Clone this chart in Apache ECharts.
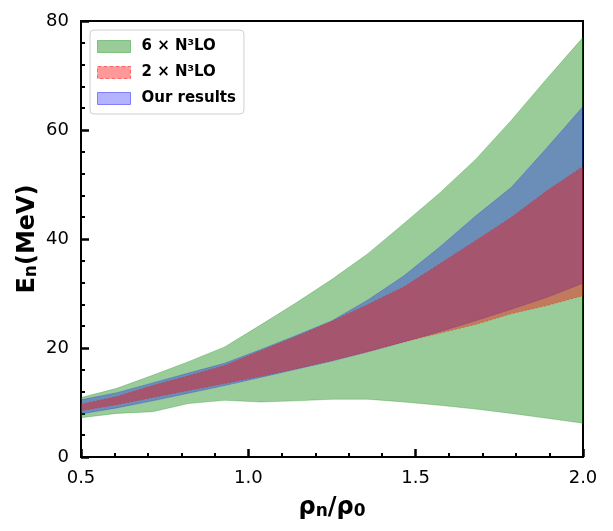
<!DOCTYPE html>
<html>
<head>
<meta charset="utf-8">
<script src="https://cdn.jsdelivr.net/npm/echarts@6/dist/echarts.min.js"></script>
<style>
  html, body { margin: 0; padding: 0; background: #fff; }
  #chart { width: 613px; height: 531px; }
</style>
</head>
<body>
<div id="chart"></div>
<script>
// Density grid rho_n / rho_0
const density = [0.5, 0.607, 0.714, 0.821, 0.929, 1.036, 1.143, 1.25, 1.357, 1.464, 1.571, 1.679, 1.786, 1.893, 2.0];

// 6 x N3LO band (MeV)
const n3lo6Lower = [7.2, 8.0, 8.3, 9.8, 10.4, 10.1, 10.3, 10.6, 10.6, 10.1, 9.5, 8.8, 8.0, 7.1, 6.2];
const n3lo6Upper = [10.9, 12.6, 15.0, 17.5, 20.2, 24.2, 28.3, 32.6, 37.3, 42.8, 48.4, 54.6, 61.8, 69.5, 77.0];

// 2 x N3LO band (MeV)
const n3lo2Lower = [8.5, 9.6, 10.9, 12.2, 13.5, 14.8, 16.2, 17.7, 19.3, 21.1, 22.7, 24.3, 26.3, 27.8, 29.6];
const n3lo2Upper = [9.7, 11.1, 13.1, 14.9, 16.8, 19.5, 22.1, 24.9, 28.0, 31.2, 35.4, 39.7, 44.0, 48.9, 53.3];

// Our results band (MeV)
const oursLower = [7.9, 9.0, 10.3, 11.7, 13.1, 14.6, 16.1, 17.6, 19.3, 21.1, 23.0, 25.0, 27.1, 29.3, 31.9];
const oursUpper = [10.5, 11.8, 13.6, 15.4, 17.2, 19.7, 22.3, 25.0, 28.8, 33.2, 38.5, 44.2, 49.5, 56.8, 64.3];

const xTicks = [0.5, 1.0, 1.5, 2.0];
const yTicks = [0, 20, 40, 60, 80];

const FONT = 'DejaVu Sans';

// Band as one filled polygon: upper edge left->right, lower edge right->left
function bandSeries(name, lower, upper, fill, stroke, dash) {
  return {
    name: name,
    type: 'custom',
    data: density.map((x, i) => [x, lower[i], upper[i]]),
    encode: { x: 0, y: [1, 2] },
    itemStyle: { color: fill },
    clip: true,
    renderItem: function (params, api) {
      if (params.dataIndex !== 0) return null;
      const pts = [];
      for (let i = 0; i < density.length; i++) pts.push(api.coord([density[i], upper[i]]));
      for (let i = density.length - 1; i >= 0; i--) pts.push(api.coord([density[i], lower[i]]));
      return {
        type: 'polygon',
        shape: { points: pts },
        style: { fill: fill, stroke: stroke, lineWidth: 1, lineDash: dash ? [2, 2] : null }
      };
    }
  };
}

const chart = echarts.init(document.getElementById('chart'), null, { renderer: 'canvas' });

const option = {
  backgroundColor: '#fff',
  animation: false,
  textStyle: { fontFamily: FONT },
  grid: {
    left: 81, top: 21, width: 502, height: 436,
    show: true, borderColor: '#000', borderWidth: 2, backgroundColor: 'transparent'
  },
  legend: {
    orient: 'vertical',
    left: 90, top: 30,
    padding: [9, 8, 8, 7],
    itemWidth: 33, itemHeight: 12, itemGap: 11,
    backgroundColor: '#fff',
    borderColor: '#d0d0d0', borderWidth: 1, borderRadius: 4,
    textStyle: { fontFamily: FONT, fontWeight: 'bold', fontSize: 15, color: '#000', padding: [0, 0, 0, 6] },
    data: [
      { name: '6 × N³LO', icon: 'rect', itemStyle: { color: '#99cc99', borderColor: '#7fbf7f', borderWidth: 1 } },
      { name: '2 × N³LO', icon: 'rect', itemStyle: { color: '#ff9999', borderColor: '#ff6666', borderWidth: 1, borderType: 'dashed' } },
      { name: 'Our results', icon: 'rect', itemStyle: { color: '#b3b3ff', borderColor: '#8080ff', borderWidth: 1 } }
    ]
  },
  xAxis: {
    type: 'value',
    min: 0.5, max: 2.0, interval: 0.5,
    name: '{b|ρ}{s|n}{b|/ρ}{s|0}',
    nameLocation: 'middle', nameGap: 39,
    nameMoveOverlap: false,
    nameTextStyle: {
      rich: {
        b: { fontFamily: FONT, fontWeight: 'bold', fontSize: 24, color: '#000', verticalAlign: 'bottom' },
        s: { fontFamily: FONT, fontWeight: 'bold', fontSize: 17, color: '#000', verticalAlign: 'bottom' }
      }
    },
    axisLine: { show: false },
    axisTick: { inside: true, length: 8, lineStyle: { color: '#000', width: 2.5 } },
    minorTick: { show: true, splitNumber: 5, length: 4, lineStyle: { color: '#000', width: 2 } },
    splitLine: { show: false },
    axisLabel: {
      margin: 12, fontFamily: FONT, fontSize: 18, color: '#000',
      formatter: v => xTicks.includes(v) ? v.toFixed(1) : ''
    }
  },
  yAxis: {
    type: 'value',
    min: 0, max: 80, interval: 20,
    name: '{b|E}{s|n}{b|(MeV)}',
    nameLocation: 'middle', nameGap: 41, nameRotate: 90,
    nameMoveOverlap: false,
    nameTextStyle: {
      rich: {
        b: { fontFamily: FONT, fontWeight: 'bold', fontSize: 24, color: '#000', verticalAlign: 'bottom' },
        s: { fontFamily: FONT, fontWeight: 'bold', fontSize: 17, color: '#000', verticalAlign: 'bottom' }
      }
    },
    axisLine: { show: false },
    axisTick: { inside: true, length: 8, lineStyle: { color: '#000', width: 2.5 } },
    minorTick: { show: true, splitNumber: 5, length: 4, lineStyle: { color: '#000', width: 2 } },
    splitLine: { show: false },
    axisLabel: {
      margin: 12, fontFamily: FONT, fontSize: 18, color: '#000',
      formatter: v => yTicks.includes(v) ? String(v) : ''
    }
  },
  series: [
    bandSeries('6 × N³LO', n3lo6Lower, n3lo6Upper, 'rgba(0,128,0,0.4)', 'rgba(0,128,0,0.25)', false),
    bandSeries('Our results', oursLower, oursUpper, 'rgba(0,0,255,0.3)', 'rgba(0,0,255,0.2)', false),
    bandSeries('2 × N³LO', n3lo2Lower, n3lo2Upper, 'rgba(255,0,0,0.4)', 'rgba(255,0,0,0.3)', true)
  ]
};

chart.setOption(option);
</script>
</body>
</html>
